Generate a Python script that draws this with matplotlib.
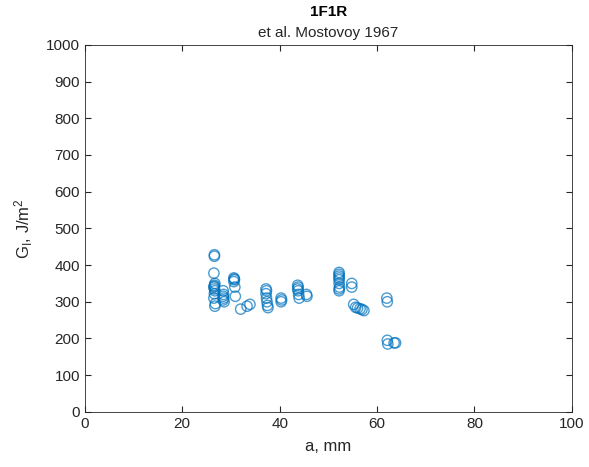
import matplotlib
matplotlib.use("Agg")
import matplotlib.pyplot as plt

plt.rcParams['font.family'] = ['Liberation Sans', 'DejaVu Sans']
plt.rcParams['mathtext.default'] = 'regular'

# Crack length a (mm) and energy release rate G_I (J/m^2)
crack_len = [26.6, 26.6, 26.5, 26.7, 26.6, 26.5, 26.6, 26.7, 26.6, 26.5, 26.8, 26.7, 26.6,
             28.4, 28.5, 28.4, 28.5, 28.4, 28.6,
             30.6, 30.7, 30.6, 30.8, 30.9, 30.7,
             32.0,
             33.3, 33.9,
             37.2, 37.3, 37.2, 37.3, 37.4, 37.5, 37.6,
             40.3, 40.4, 40.3,
             43.7, 43.8, 43.7, 43.8, 43.9, 44.0,
             45.5, 45.6,
             52.2, 52.2, 52.2, 52.2, 52.2, 52.2, 52.3, 52.2, 52.2,
             54.8, 54.8,
             55.2, 55.6, 56.0, 56.5, 56.9, 57.3,
             62.0, 62.1, 62.1, 62.2,
             63.5, 63.8]
g_i = [428, 424, 378, 350, 345, 340, 335, 330, 322, 310, 295, 288, 342,
       330, 320, 315, 310, 305, 300,
       365, 360, 355, 340, 315, 362,
       280,
       288, 293,
       335, 330, 322, 310, 300, 290, 284,
       310, 305, 300,
       345, 340, 335, 330, 320, 310,
       320, 315,
       380, 375, 370, 365, 360, 350, 340, 335, 330,
       350, 340,
       293, 285, 283, 281, 279, 276,
       310, 300, 195, 185,
       188, 188]

fig = plt.figure(figsize=(5.89, 4.67), dpi=100)
ax = fig.add_axes([0.144, 0.118, 0.827, 0.786])

ax.scatter(crack_len, g_i, s=55, facecolors='none',
           edgecolors=(0.0, 0.447, 0.741), linewidths=1.0, alpha=0.7)

ax.set_xlim(0, 100)
ax.set_ylim(0, 1000)
ax.set_xticks(range(0, 101, 20))
ax.set_yticks(range(0, 1001, 100))
ax.tick_params(direction='in', length=4, labelsize=11, colors='#262626',
               top=True, right=True, labeltop=False, labelright=False)
for sp in ax.spines.values():
    sp.set_color('#262626')
    sp.set_linewidth(0.6)

ax.set_xlabel('a, mm', fontsize=12, color='#262626', labelpad=6)
ax.set_ylabel('G$_I$, J/m$^2$', fontsize=12, color='#262626', labelpad=8)
fig.text(0.5 * (0.144 + 0.971), 1 - 12 / 467, '1F1R', ha='center', va='center',
         fontsize=11, fontweight='bold', color='black')
fig.text(0.5 * (0.144 + 0.971), 1 - 33 / 467, 'et al. Mostovoy 1967', ha='center',
         va='center', fontsize=11, color='#262626')

fig.savefig('out.png', dpi=100)
